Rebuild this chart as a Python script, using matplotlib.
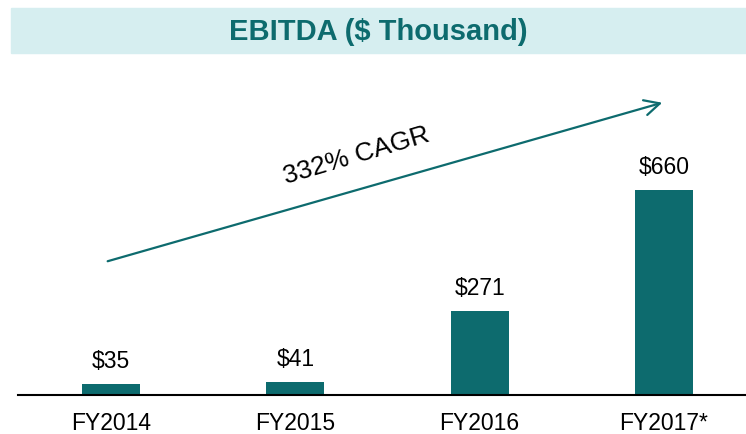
import matplotlib.pyplot as plt
import matplotlib
import numpy as np
from matplotlib.patches import Rectangle

matplotlib.rcParams['font.family'] = 'Liberation Sans'

# data
categories = ['FY2014', 'FY2015', 'FY2016', 'FY2017*']
ebitda = [35, 41, 271, 660]
value_labels = ['$35', '$41', '$271', '$660']
cagr_text = '332% CAGR'

teal = '#0d6b6e'
band = '#d6eef0'

fig = plt.figure(figsize=(7.46, 4.34), dpi=100)

# title band
fig.patches.append(Rectangle((11 / 746, 1 - 53 / 434), 735 / 746, 45 / 434,
                             transform=fig.transFigure, color=band, zorder=0))
fig.text(0.5 * (11 + 746) / 746, 1 - 32 / 434, 'EBITDA ($ Thousand)',
         ha='center', va='center', fontsize=21, fontweight='bold', color=teal)

ax = fig.add_axes([18 / 746, 39 / 434, 728 / 746, 335 / 434])
x = np.arange(len(categories))
bars = ax.bar(x, ebitda, width=0.315, color=teal)
for xi, v, lab in zip(x, ebitda, value_labels):
    ax.text(xi, v + 36, lab, ha='center', va='bottom', fontsize=16.5)

ax.set_xlim(-0.505, 3.445)
ax.set_ylim(0, 1078)
ax.set_xticks(x)
ax.set_xticklabels(categories, fontsize=16.5)
ax.tick_params(axis='x', length=0, pad=12)
ax.set_yticks([])
for s in ['top', 'right', 'left']:
    ax.spines[s].set_visible(False)
ax.spines['bottom'].set_linewidth(1.5)

# growth arrow
ax.annotate('', xy=(3.005, 943), xytext=(-0.033, 428),
            arrowprops=dict(arrowstyle='->,head_length=1.1,head_width=0.55',
                            color=teal, lw=1.6))
ax.text(1.334, 770, cagr_text, rotation=16.5, ha='center', va='center',
        fontsize=19, rotation_mode='anchor')

plt.savefig('out.png', dpi=100)
